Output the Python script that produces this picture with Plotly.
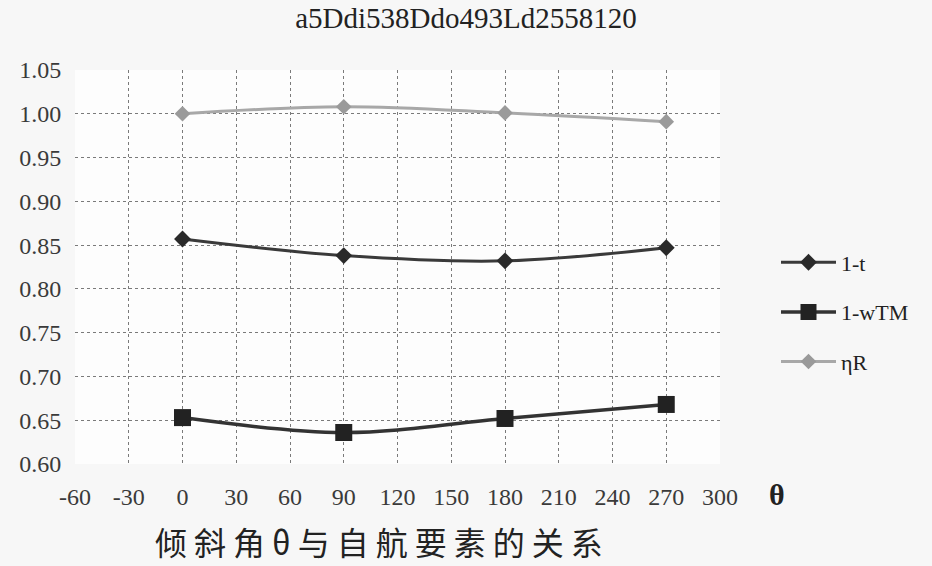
import plotly.graph_objects as go

theta = [0, 90, 180, 270]
one_minus_t = [0.857, 0.838, 0.832, 0.847]
one_minus_wtm = [0.653, 0.636, 0.652, 0.668]
eta_r = [1.000, 1.008, 1.001, 0.991]

x_ticks = [-60, -30, 0, 30, 60, 90, 120, 150, 180, 210, 240, 270, 300]
y_ticks = [0.60, 0.65, 0.70, 0.75, 0.80, 0.85, 0.90, 0.95, 1.00, 1.05]

serif = "Liberation Serif, Times New Roman, serif"

fig = go.Figure()
fig.add_trace(go.Scatter(
    x=theta, y=one_minus_t, name="1-t", mode="lines+markers",
    line=dict(color="#3a3a3a", width=3, shape="spline"),
    marker=dict(symbol="diamond", size=13, color="#2a2a2a"),
    legendgroup="a"))
fig.add_trace(go.Scatter(
    x=theta, y=one_minus_wtm, name="1-wTM", mode="lines+markers",
    line=dict(color="#333333", width=3.5, shape="spline"),
    marker=dict(symbol="square", size=17, color="#222222"),
    legendgroup="b"))
fig.add_trace(go.Scatter(
    x=theta, y=eta_r, name="ηR", mode="lines+markers",
    line=dict(color="#a8a8a8", width=3, shape="spline"),
    marker=dict(symbol="diamond", size=12, color="#9a9a9a"),
    legendgroup="c"))

grid = dict(showgrid=True, gridcolor="#7a7a7a", griddash="dot", gridwidth=1)

fig.update_layout(
    width=932, height=566,
    margin=dict(l=75, r=212, t=70, b=102),
    paper_bgcolor="#f7f7f7", plot_bgcolor="#fdfdfd",
    title=dict(text="a5Ddi538Ddo493Ld2558120", x=0.5, xanchor="center",
               y=1 - 18 / 566, yanchor="middle",
               font=dict(family=serif, size=29, color="#222222")),
    font=dict(family=serif, size=22, color="#333333"),
    xaxis=dict(range=[-60, 300], tickvals=x_ticks, ticktext=[str(v) for v in x_ticks],
               zeroline=False, showline=False, ticks="outside", ticklen=11,
               tickcolor="rgba(0,0,0,0)",
               tickfont=dict(family=serif, size=24, color="#3a3a3a"), **grid),
    yaxis=dict(range=[0.60, 1.05], tickvals=y_ticks, ticktext=[f"{v:.2f}" for v in y_ticks],
               zeroline=False, showline=False, ticks="outside", ticklen=8,
               tickcolor="rgba(0,0,0,0)",
               tickfont=dict(family=serif, size=24, color="#3a3a3a"), **grid),
    legend=dict(x=(776 - 75) / 645, y=(464 - 312) / 394, xanchor="left", yanchor="middle",
                bgcolor="rgba(0,0,0,0)", traceorder="grouped", tracegroupgap=18,
                itemwidth=55, font=dict(family=serif, size=22, color="#222222")),
    showlegend=True,
)

fig.add_annotation(text="<b>θ</b>", xref="paper", yref="paper", x=(777 - 75) / 645,
                   y=(464 - 494) / 394, showarrow=False,
                   font=dict(family=serif, size=30, color="#222222"),
                   xanchor="center", yanchor="middle")
fig.add_annotation(text='<span style="letter-spacing:7px">倾斜角θ与自航要素的关系</span>',
                   xref="paper", yref="paper",
                   x=(382 - 75) / 645, y=(464 - 541) / 394, showarrow=False,
                   font=dict(family="Noto Sans CJK SC", size=32, color="#222222"),
                   xanchor="center", yanchor="middle")

fig.write_html("out.html", config={"displayModeBar": False},
               post_script="document.body.style.margin='0';")
